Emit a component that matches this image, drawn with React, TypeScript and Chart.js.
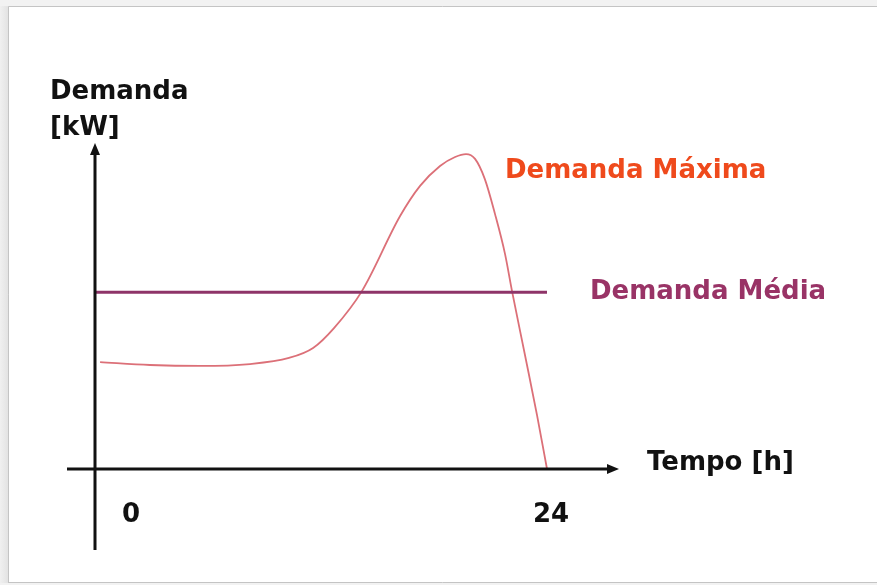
import React, { useEffect, useRef } from "react";
import { Chart, registerables } from "chart.js";

Chart.register(...registerables);

// Demand curve (hours, relative kW)
const hours = [0.27, 2.92, 5.58, 8.23, 10.3, 11.58, 12.69, 14.18, 16.2, 17.26, 18.32, 19.12, 19.7, 20.18, 20.7, 21.24, 21.77, 22.14, 22.83, 23.47, 24];
const demand = [33.3, 32.4, 32.1, 32.7, 34.6, 37.7, 43.9, 55.5, 78.8, 88.2, 94.4, 97.2, 98.1, 96.6, 90.3, 79.4, 67.0, 55.5, 35.5, 16.8, 0];
const avgHours = [0, 24];
const avgDemand = [55.1, 55.1];
const xTickValues = [0, 24];
const xTickLabels = ["0", "24"];
const yAxisTitle = ["Demanda", "[kW]"];
const xAxisTitle = "Tempo [h]";
const maxLabel = "Demanda Máxima";
const avgLabel = "Demanda Média";

const FONT = 'bold 26px "DejaVu Sans", Verdana, sans-serif';

const decorPlugin = {
  id: "decor",
  beforeDraw(chart: any) {
    const ctx = chart.ctx;
    const w = chart.width;
    const h = chart.height;
    ctx.save();
    ctx.fillStyle = "#ffffff";
    ctx.fillRect(0, 0, w, h);
    // soft shadow on left
    const g = ctx.createLinearGradient(0, 0, 9, 0);
    g.addColorStop(0, "rgba(240,240,240,1)");
    g.addColorStop(1, "rgba(225,225,225,1)");
    ctx.fillStyle = g;
    ctx.fillRect(0, 6, 9, h - 6);
    ctx.fillStyle = "#f2f2f2";
    ctx.fillRect(0, 0, w, 6);
    ctx.fillRect(0, 583, w, 2);
    ctx.fillStyle = "#ffffff";
    ctx.fillRect(9, 7, w - 9, 576);
    ctx.strokeStyle = "#c4c4c4";
    ctx.lineWidth = 1;
    ctx.beginPath();
    ctx.moveTo(8.5, 583);
    ctx.lineTo(8.5, 6.5);
    ctx.lineTo(w, 6.5);
    ctx.moveTo(8.5, 582.5);
    ctx.lineTo(w, 582.5);
    ctx.stroke();
    ctx.restore();
  },
  afterDatasetsDraw(chart: any) {
    const ctx = chart.ctx;
    const xs = chart.scales.x;
    const ys = chart.scales.y;
    const x0 = xs.getPixelForValue(0);
    const y0 = ys.getPixelForValue(0);
    ctx.save();
    ctx.strokeStyle = "#111111";
    ctx.fillStyle = "#111111";
    ctx.lineWidth = 3;
    // vertical axis
    const vTop = ys.getPixelForValue(100) - 5;
    ctx.beginPath();
    ctx.moveTo(x0, 550);
    ctx.lineTo(x0, vTop + 10);
    ctx.stroke();
    ctx.beginPath();
    ctx.moveTo(x0, vTop);
    ctx.lineTo(x0 - 5, vTop + 12);
    ctx.lineTo(x0 + 5, vTop + 12);
    ctx.closePath();
    ctx.fill();
    // horizontal axis
    const hRight = xs.getPixelForValue(24) + 72;
    ctx.beginPath();
    ctx.moveTo(67, y0);
    ctx.lineTo(hRight - 10, y0);
    ctx.stroke();
    ctx.beginPath();
    ctx.moveTo(hRight, y0);
    ctx.lineTo(hRight - 12, y0 - 5);
    ctx.lineTo(hRight - 12, y0 + 5);
    ctx.closePath();
    ctx.fill();

    // texts
    ctx.font = FONT;
    ctx.textBaseline = "alphabetic";
    ctx.textAlign = "left";
    ctx.fillStyle = "#111111";
    ctx.fillText(yAxisTitle[0], 50, 99);
    ctx.fillText(yAxisTitle[1], 50, 135);
    ctx.fillText(xAxisTitle, 647, 470);
    xTickValues.forEach((v, i) => {
      const px = xs.getPixelForValue(v);
      ctx.textAlign = "center";
      ctx.fillText(xTickLabels[i], i === 0 ? px + 36 : px + 4, 522);
    });
    ctx.textAlign = "left";
    ctx.fillStyle = "#ef4a1c";
    ctx.fillText(maxLabel, 505, 178);
    ctx.fillStyle = "#993366";
    ctx.fillText(avgLabel, 590, 299);
    ctx.restore();
  },
};

export default function App() {
  const ref = useRef<HTMLCanvasElement | null>(null);
  useEffect(() => {
    if (!ref.current) return;
    const chart = new Chart(ref.current, {
      type: "line",
      data: {
        datasets: [
          {
            data: avgHours.map((x, i) => ({ x, y: avgDemand[i] })),
            borderColor: "#8e3468",
            borderWidth: 3,
            pointRadius: 0,
            tension: 0,
            clip: false as any,
          },
          {
            data: hours.map((x, i) => ({ x, y: demand[i] })),
            borderColor: "#dc7078",
            borderWidth: 1.8,
            pointRadius: 0,
            cubicInterpolationMode: "monotone",
            clip: false as any,
          },
        ],
      },
      options: {
        animation: false,
        responsive: false,
        devicePixelRatio: 1,
        layout: { padding: { left: 95, right: 330, top: 148, bottom: 116 } },
        plugins: { legend: { display: false }, tooltip: { enabled: false }, title: { display: false } },
        scales: {
          x: { type: "linear", min: 0, max: 24, display: false },
          y: { type: "linear", min: 0, max: 100, display: false },
        },
      },
      plugins: [decorPlugin],
    });
    return () => chart.destroy();
  }, []);
  return (
    <div style={{ position: "absolute", left: 0, top: 0, width: 877, height: 585 }}>
      <canvas ref={ref} width={877} height={585} style={{ display: "block" }} />
    </div>
  );
}
